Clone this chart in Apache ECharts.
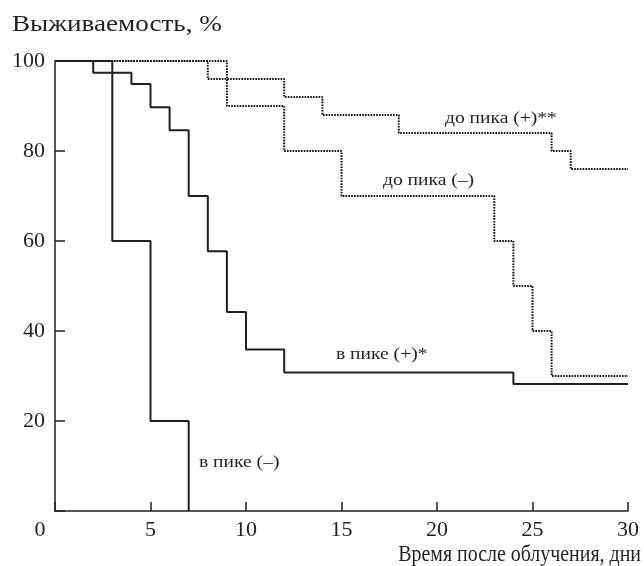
<!DOCTYPE html>
<html><head><meta charset="utf-8">
<script src="https://cdn.jsdelivr.net/npm/echarts@6/dist/echarts.min.js"></script>
<style>html,body{margin:0;padding:0;background:#fff}#c{width:644px;height:566px}</style>
</head><body><div id="c"></div>
<script>
// Data
const xTickValues = [0, 5, 10, 15, 20, 25, 30];
const yTickValues = [0, 20, 40, 60, 80, 100];
const peakNegDays = [0, 3, 5, 7];
const peakNegSurv = [100, 60, 20, 0];
const peakPosDays = [0, 2, 4, 5, 6, 7, 8, 9, 10, 12, 24, 30];
const peakPosSurv = [100, 97.4, 94.9, 89.7, 84.6, 70, 57.7, 44.2, 35.9, 30.8, 28.2, 28.2];
const prePosDays = [0, 8, 12, 14, 18, 26, 27, 30];
const prePosSurv = [100, 96, 92, 88, 84, 80, 76, 76];
const preNegDays = [0, 9, 12, 15, 23, 24, 25, 26, 30];
const preNegSurv = [100, 90, 80, 70, 60, 50, 40, 30, 30];
const seriesNames = ['в пике (–)', 'в пике (+)*', 'до пика (–)', 'до пика (+)**'];
const yTitle = 'Выживаемость, %';
const xTitle = 'Время после облучения, дни';

const pairs = (xs, ys) => xs.map((x, i) => [x, ys[i]]);
const FONT = '"Liberation Serif", "Times New Roman", serif';
const INK = '#231f20';

const chart = echarts.init(document.getElementById('c'), null, {renderer: 'canvas'});
const dotted = {color: '#111', width: 2, type: [1.6, 1.2]};
const solid = {color: INK, width: 2, type: 'solid'};
const label = (text, x, y) => ({
  type: 'text', x: x, y: y, scaleX: 1.15,
  style: {text: text, font: '17px ' + FONT, fill: INK, textVerticalAlign: 'middle'}
});
chart.setOption({
  animation: false,
  backgroundColor: '#fff',
  grid: {left: 55, right: 16, top: 61, bottom: 55, containLabel: false},
  xAxis: {
    type: 'value', min: xTickValues[0], max: xTickValues[xTickValues.length - 1], interval: 5,
    axisLine: {show: true, lineStyle: {color: INK, width: 1.5}},
    axisTick: {show: true, inside: true, length: 9, lineStyle: {color: INK, width: 1.5}},
    splitLine: {show: false},
    axisLabel: {
      fontFamily: FONT, fontSize: 22, color: INK, margin: 8,
      formatter: v => v === 0 ? '{z|0}' : String(v),
      rich: {z: {fontFamily: FONT, fontSize: 22, color: INK, padding: [0, 30, 0, 0]}}
    }
  },
  yAxis: {
    type: 'value', min: yTickValues[0], max: yTickValues[yTickValues.length - 1], interval: 20,
    axisLine: {show: true, lineStyle: {color: INK, width: 1.5}},
    axisTick: {show: true, inside: true, length: 10, lineStyle: {color: INK, width: 1.5}},
    splitLine: {show: false},
    axisLabel: {
      fontFamily: FONT, fontSize: 22, color: INK, margin: 10,
      formatter: v => v === 0 ? '' : String(v)
    }
  },
  series: [
    {name: seriesNames[2], type: 'line', step: 'end', symbol: 'none', lineStyle: dotted, data: pairs(preNegDays, preNegSurv), z: 2},
    {name: seriesNames[3], type: 'line', step: 'end', symbol: 'none', lineStyle: dotted, data: pairs(prePosDays, prePosSurv), z: 2},
    {name: seriesNames[1], type: 'line', step: 'end', symbol: 'none', lineStyle: solid, data: pairs(peakPosDays, peakPosSurv), z: 3},
    {name: seriesNames[0], type: 'line', step: 'end', symbol: 'none', lineStyle: solid, data: pairs(peakNegDays, peakNegSurv), z: 3}
  ],
  graphic: [
    {type: 'text', x: 12, y: 25, scaleX: 1.13,
     style: {text: yTitle, font: '24px ' + FONT, fill: INK, textVerticalAlign: 'middle'}},
    {type: 'text', x: 641, y: 555, scaleX: 0.83,
     style: {text: xTitle, font: '24px ' + FONT, fill: INK, textAlign: 'right', textVerticalAlign: 'middle'}},
    label(seriesNames[3], 445, 119),
    label(seriesNames[2], 383, 181),
    label(seriesNames[1], 336, 355),
    label(seriesNames[0], 199, 463)
  ]
});
</script></body></html>
